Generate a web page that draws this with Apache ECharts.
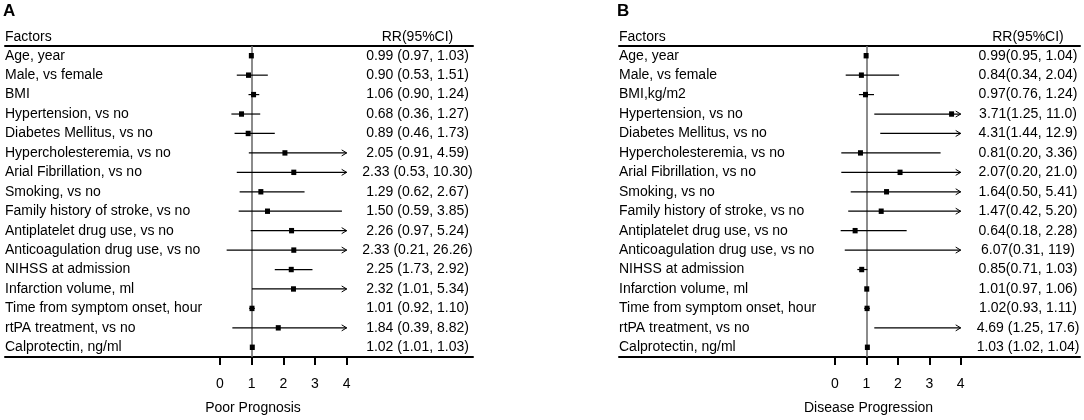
<!DOCTYPE html>
<html><head><meta charset="utf-8">
<script src="https://cdn.jsdelivr.net/npm/echarts@6/dist/echarts.min.js"></script>
<style>html,body{margin:0;padding:0;background:#fff}#c{width:1084px;height:420px}</style>
</head><body><div id="c"></div>
<script>
// ---------- data ----------
const factorsA = ['Age, year','Male, vs female','BMI','Hypertension, vs no','Diabetes Mellitus, vs no','Hypercholesteremia, vs no','Arial Fibrillation, vs no','Smoking, vs no','Family history of stroke, vs no','Antiplatelet drug use, vs no','Anticoagulation drug use, vs no','NIHSS at admission','Infarction volume, ml','Time from symptom onset, hour','rtPA treatment, vs no','Calprotectin, ng/ml'];
const rrA = [0.99,0.90,1.06,0.68,0.89,2.05,2.33,1.29,1.50,2.26,2.33,2.25,2.32,1.01,1.84,1.02];
const loA = [0.97,0.53,0.90,0.36,0.46,0.91,0.53,0.62,0.59,0.97,0.21,1.73,1.01,0.92,0.39,1.01];
const hiA = [1.03,1.51,1.24,1.27,1.73,4.59,10.30,2.67,3.85,5.24,26.26,2.92,5.34,1.10,8.82,1.03];
const ciTextA = ['0.99 (0.97, 1.03)','0.90 (0.53, 1.51)','1.06 (0.90, 1.24)','0.68 (0.36, 1.27)','0.89 (0.46, 1.73)','2.05 (0.91, 4.59)','2.33 (0.53, 10.30)','1.29 (0.62, 2.67)','1.50 (0.59, 3.85)','2.26 (0.97, 5.24)','2.33 (0.21, 26.26)','2.25 (1.73, 2.92)','2.32 (1.01, 5.34)','1.01 (0.92, 1.10)','1.84 (0.39, 8.82)','1.02 (1.01, 1.03)'];

const factorsB = ['Age, year','Male, vs female','BMI,kg/m2','Hypertension, vs no','Diabetes Mellitus, vs no','Hypercholesteremia, vs no','Arial Fibrillation, vs no','Smoking, vs no','Family history of stroke, vs no','Antiplatelet drug use, vs no','Anticoagulation drug use, vs no','NIHSS at admission','Infarction volume, ml','Time from symptom onset, hour','rtPA treatment, vs no','Calprotectin, ng/ml'];
const rrB = [0.99,0.84,0.97,3.71,4.31,0.81,2.07,1.64,1.47,0.64,6.07,0.85,1.01,1.02,4.69,1.03];
const loB = [0.95,0.34,0.76,1.25,1.44,0.20,0.20,0.50,0.42,0.18,0.31,0.71,0.97,0.93,1.25,1.02];
const hiB = [1.04,2.04,1.24,11.0,12.9,3.36,21.0,5.41,5.20,2.28,119,1.03,1.06,1.11,17.6,1.04];
const ciTextB = ['0.99(0.95, 1.04)','0.84(0.34, 2.04)','0.97(0.76, 1.24)','3.71(1.25, 11.0)','4.31(1.44, 12.9)','0.81(0.20, 3.36)','2.07(0.20, 21.0)','1.64(0.50, 5.41)','1.47(0.42, 5.20)','0.64(0.18, 2.28)','6.07(0.31, 119)','0.85(0.71, 1.03)','1.01(0.97, 1.06)','1.02(0.93, 1.11)','4.69 (1.25, 17.6)','1.03 (1.02, 1.04)'];

const xTicks = [0,1,2,3,4];
const refValue = 1;
const clipMax = 4;
const panelLetters = ['A','B'];
const colHeaders = ['Factors','RR(95%CI)'];
const axisTitles = ['Poor Prognosis','Disease Progression'];

// ---------- chart ----------
const FONT = '"Liberation Sans", Arial, sans-serif';
const chart = echarts.init(document.getElementById('c'), null, {renderer:'canvas'});

function renderCI(params, api) {
  const idx = api.value(0);
  const rr = api.value(1), lo = api.value(2), hi = api.value(3);
  const end = Math.min(hi, clipMax);
  const p0 = api.coord([lo, idx]);
  const p1 = api.coord([end, idx]);
  const pr = api.coord([rr, idx]);
  const children = [{type:'line', shape:{x1:p0[0],y1:p0[1],x2:p1[0],y2:p1[1]}, style:{stroke:'#000', lineWidth:1.2}}];
  if (hi > clipMax) {
    children.push({type:'polyline', shape:{points:[[p1[0]-5,p1[1]-3],[p1[0],p1[1]],[p1[0]-5,p1[1]+3]]}, style:{stroke:'#000', lineWidth:1, fill:null}});
  }
  if (rr <= clipMax) {
    children.push({type:'rect', shape:{x:pr[0]-2.5,y:pr[1]-2.7,width:5,height:5.4}, style:{fill:'#000'}});
  }
  return {type:'group', children};
}

const panels = [
  {factors:factorsA, rr:rrA, lo:loA, hi:hiA, txt:ciTextA, grid:{left:5, right:611, top:46, bottom:63}, min:-6.789, max:7.989, ciMargin:55.5},
  {factors:factorsB, rr:rrB, lo:loB, hi:hiB, txt:ciTextB, grid:{left:619, right:4, top:46, bottom:63}, min:-6.875, max:7.797, ciMargin:52}
];

const option = {
  animation:false,
  backgroundColor:'#fff',
  textStyle:{fontFamily:FONT},
  grid: panels.map(p => p.grid),
  xAxis: [],
  yAxis: [],
  series: [],
  graphic: []
};

panels.forEach((p, i) => {
  option.xAxis.push({
    type:'value', gridIndex:i, position:'bottom', min:p.min, max:p.max,
    axisLine:{show:true, onZero:false, lineStyle:{color:'#000', width:2}},
    axisTick:{show:true, customValues:xTicks, length:8, inside:false, lineStyle:{color:'#000', width:2}},
    axisLabel:{show:true, customValues:xTicks, margin:20, fontSize:14, color:'#000', fontFamily:FONT},
    splitLine:{show:false}
  });
  option.xAxis.push({
    type:'value', gridIndex:i, position:'top', min:p.min, max:p.max,
    axisLine:{show:true, onZero:false, lineStyle:{color:'#000', width:2}},
    axisTick:{show:false}, axisLabel:{show:false}, splitLine:{show:false}
  });
  option.yAxis.push({
    type:'category', gridIndex:i, position:'left', inverse:true, data:p.factors,
    axisLine:{show:false}, axisTick:{show:false}, splitLine:{show:false},
    axisLabel:{inside:true, margin:0, align:'left', fontSize:14, color:'#000', fontFamily:FONT}
  });
  option.yAxis.push({
    type:'category', gridIndex:i, position:'right', inverse:true, data:p.txt,
    axisLine:{show:false}, axisTick:{show:false}, splitLine:{show:false},
    axisLabel:{inside:true, margin:p.ciMargin, align:'center', fontSize:14, color:'#000', fontFamily:FONT}
  });
  option.series.push({
    type:'scatter', xAxisIndex:i*2, yAxisIndex:i*2, data:[], z:1, silent:true,
    markLine:{silent:true, symbol:'none', animation:false, label:{show:false},
      lineStyle:{color:'#6e6e6e', width:1.6, type:'solid'}, data:[{xAxis:refValue}]}
  });
  option.series.push({
    type:'custom', xAxisIndex:i*2, yAxisIndex:i*2, z:5, silent:true, clip:false,
    renderItem:renderCI,
    encode:{x:[1,2,3], y:0},
    data:p.factors.map((f, k) => [k, p.rr[k], p.lo[k], p.hi[k]])
  });
});

option.graphic = [
  {type:'text', left:3, top:3, style:{text:panelLetters[0], font:'bold 17px '+FONT, fill:'#000'}},
  {type:'text', left:617, top:3, style:{text:panelLetters[1], font:'bold 17px '+FONT, fill:'#000'}},
  {type:'text', x:5, y:37.5, style:{text:colHeaders[0], font:'14px '+FONT, fill:'#000', textVerticalAlign:'middle'}},
  {type:'text', x:619, y:37.5, style:{text:colHeaders[0], font:'14px '+FONT, fill:'#000', textVerticalAlign:'middle'}},
  {type:'text', x:417.5, y:37.5, style:{text:colHeaders[1], font:'14px '+FONT, fill:'#000', textAlign:'center', textVerticalAlign:'middle'}},
  {type:'text', x:1028, y:37.5, style:{text:colHeaders[1], font:'14px '+FONT, fill:'#000', textAlign:'center', textVerticalAlign:'middle'}},
  {type:'text', x:253, y:408.5, style:{text:axisTitles[0], font:'14px '+FONT, fill:'#000', textAlign:'center', textVerticalAlign:'middle'}},
  {type:'text', x:868.5, y:408.5, style:{text:axisTitles[1], font:'14px '+FONT, fill:'#000', textAlign:'center', textVerticalAlign:'middle'}}
];

chart.setOption(option);
</script>
</body></html>
